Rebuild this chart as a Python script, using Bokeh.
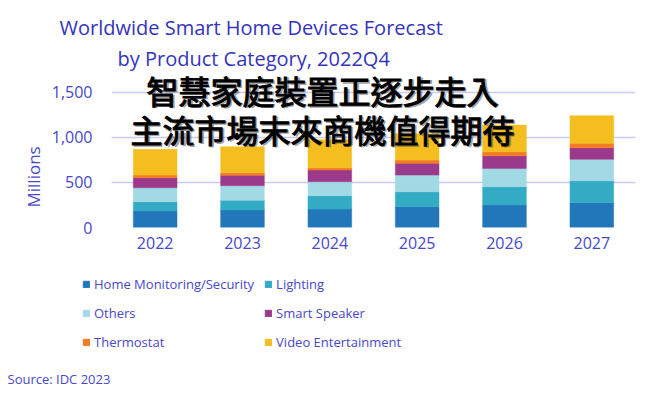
from bokeh.plotting import figure
from bokeh.layouts import column
from bokeh.models import (ColumnDataSource, Label, Legend, LegendItem, FactorRange, Range1d,
                          NumeralTickFormatter, Title)
from bokeh.embed import file_html
from bokeh.resources import INLINE

years = ["2022", "2023", "2024", "2025", "2026", "2027"]
home_security = [183, 194, 205, 231, 250, 275]
lighting = [103, 108, 148, 166, 202, 244]
others = [155, 162, 155, 185, 204, 237]
smart_speaker = [111, 115, 130, 130, 140, 129]
thermostat = [30, 29, 25, 36, 45, 49]
video = [285, 288, 312, 292, 296, 306]

series = ["Home Monitoring/Security", "Lighting", "Others", "Smart Speaker", "Thermostat", "Video Entertainment"]
keys = ["home_security", "lighting", "others", "smart_speaker", "thermostat", "video"]
colors = ["#2277ba", "#33abc5", "#a1dae4", "#9b3a8b", "#f47c25", "#f4be1e"]
y_ticks = [0, 500, 1000, 1500]

TXT = "#4848c8"
TITLE = "#3434bc"
FONT = "Open Sans"

source = ColumnDataSource(dict(years=years, home_security=home_security, lighting=lighting,
                               others=others, smart_speaker=smart_speaker,
                               thermostat=thermostat, video=video))

# ---------------- main chart ----------------
p = figure(width=664, height=262, x_range=FactorRange(*years), y_range=Range1d(0, 1720),
           output_backend="svg", toolbar_location=None,
           min_border_left=111, min_border_right=29, min_border_top=72, min_border_bottom=35)
p.frame_align = False
p.outline_line_color = None
p.background_fill_color = "white"
p.border_fill_color = "white"

renderers = p.vbar_stack(keys, x="years", width=0.5, color=colors, source=source,
                         line_color=colors, line_width=0.5)

p.xgrid.grid_line_color = None
p.ygrid.grid_line_color = "#c9c9f7"
p.ygrid.grid_line_width = 1.5
p.yaxis.ticker = y_ticks
p.yaxis.formatter = NumeralTickFormatter(format="0,0")
for ax in (p.xaxis, p.yaxis):
    ax.axis_line_color = None
    ax.major_tick_line_color = None
    ax.minor_tick_line_color = None
    ax.major_tick_out = 0
    ax.major_tick_in = 0
    ax.major_label_text_color = TXT
    ax.major_label_text_font = FONT
    ax.major_label_text_font_size = "16px"
p.yaxis.major_label_standoff = 19
p.xaxis.major_label_standoff = 9

p.add_layout(Title(text="by Product Category, 2022Q4", align="left", offset=6, standoff=1,
                   text_font=FONT, text_font_size="20px", text_font_style="normal",
                   text_color=TITLE), "above")
p.add_layout(Title(text="Worldwide Smart Home Devices Forecast", align="left", offset=-52, standoff=3,
                   text_font=FONT, text_font_size="20px", text_font_style="normal",
                   text_color=TITLE), "above")
p.add_layout(Title(text="Millions", align="left", offset=20, standoff=8, text_font=FONT,
                   text_font_size="17px", text_font_style="normal", text_color=TXT), "left")

cjk = "Noto Sans CJK TC"
for t, yy in (("智慧家庭裝置正逐步走入", 138), ("主流市場末來商機值得期待", 99)):
    p.add_layout(Label(text=t, x=212.5, y=yy - 1.5, x_units="screen", y_units="screen",
                       text_align="center", text_baseline="middle", text_font=cjk,
                       text_font_size="32px", text_color="#555555", text_alpha=0.55,
                       text_font_style="bold"))
    p.add_layout(Label(text=t, x=211, y=yy, x_units="screen", y_units="screen",
                       text_align="center", text_baseline="middle", text_font=cjk,
                       text_font_size="32px", text_color="#000000", text_font_style="normal",
                       text_outline_color="#000000"))

# ---------------- legend + source strip ----------------
q = figure(width=664, height=133, x_range=FactorRange(*years), y_range=Range1d(0, 1),
           output_backend="svg", toolbar_location=None, x_axis_type=None, y_axis_type=None,
           min_border_left=0, min_border_right=0, min_border_top=0, min_border_bottom=0)
q.frame_align = False
q.outline_line_color = None
q.xgrid.grid_line_color = None
q.ygrid.grid_line_color = None
legend_renderers = q.vbar_stack(keys, x="years", width=0.5, color=colors, source=source)
for r in legend_renderers:
    r.visible = False

order = [0, 2, 4, 1, 3, 5]   # legend fills column by column
legend = Legend(items=[LegendItem(label=series[i], renderers=[legend_renderers[i]]) for i in order],
                ncols=2, location=(82, 43.5), padding=0, margin=0, spacing=10,
                label_height=19, label_standoff=4, glyph_width=8, glyph_height=8,
                border_line_color=None, background_fill_alpha=0,
                label_text_color=TXT, label_text_font=FONT, label_text_font_size="13px",
                item_background_fill_alpha=0, inactive_fill_alpha=0)
q.add_layout(legend, "center")
q.add_layout(Label(text="Source: IDC 2023", x=7, y=17, x_units="screen", y_units="screen",
                   text_align="left", text_baseline="middle", text_font=FONT,
                   text_font_size="13px", text_color=TXT))

layout = column(p, q, spacing=0)
open("out.html", "w").write(file_html(layout, INLINE))
